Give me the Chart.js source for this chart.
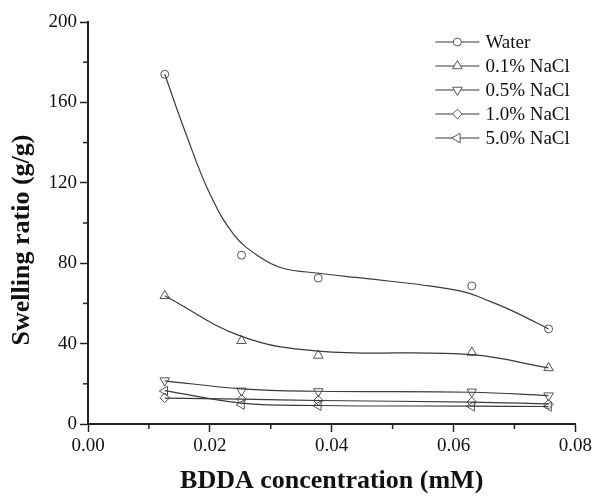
<!DOCTYPE html>
<html>
<head>
<meta charset="utf-8">
<script src="https://cdn.jsdelivr.net/npm/chart.js@4.4.1/dist/chart.umd.min.js"></script>
<style>
  html, body { margin: 0; padding: 0; background: #fff; }
  #wrap { width: 595px; height: 497px; }
</style>
</head>
<body>
<div id="wrap"><canvas id="c"></canvas></div>
<script>
// measured points
const conc = [0.0126, 0.0252, 0.0378, 0.063, 0.0756];
const water  = [174, 84, 72.6, 68.7, 47.3];
const nacl01 = [63.8, 41.4, 34.1, 35.6, 27.9];
const nacl05 = [21.6, 16.5, 16.2, 16.0, 14.1];
const nacl10 = [13.0, 12.2, 11.7, 10.9, 9.8];
const nacl50 = [16.4, 9.6, 9.1, 8.8, 8.7];

// fitted curves
const waterFitX = [0.0126, 0.016, 0.02, 0.024, 0.028, 0.032, 0.038, 0.044, 0.05, 0.056, 0.062, 0.066, 0.07, 0.0756];
const waterFit  = [174, 145, 114.5, 94, 83.5, 77.5, 75, 72.9, 70.9, 68.7, 65.5, 61, 55.8, 47.3];
const nacl01Fit = [63.8, 43.6, 36.3, 34.5, 27.9];
const nacl05Fit = [21.5, 17.5, 16.3, 15.8, 14.1];
const nacl10Fit = [12.9, 12.4, 11.7, 10.9, 10.0];
const nacl50Fit = [16.6, 10.4, 9.2, 8.9, 8.7];

const labels = ["Water", "0.1% NaCl", "0.5% NaCl", "1.0% NaCl", "5.0% NaCl"];
const xTicks = [0, 0.02, 0.04, 0.06, 0.08];
const yTitle = "Swelling ratio (g/g)";

const lineColor = "#3a3a3a";
const markColor = "#555";
const serif = "'Liberation Serif', 'Times New Roman', serif";

const markers = [
  { style: "circle", rotation: 0, radius: 4 },
  { style: "triangle", rotation: 0, radius: 5.5 },
  { style: "triangle", rotation: 180, radius: 5.5 },
  { style: "rectRot", rotation: 0, radius: 4.8 },
  { style: "triangle", rotation: 270, radius: 5.5 }
];

function toXY(xs, ys) {
  return ys.map((y, i) => ({ x: xs[i], y: y }));
}

const pointSets = [water, nacl01, nacl05, nacl10, nacl50];
const fitSets = [
  toXY(waterFitX, waterFit),
  toXY(conc, nacl01Fit),
  toXY(conc, nacl05Fit),
  toXY(conc, nacl10Fit),
  toXY(conc, nacl50Fit)
];

const datasets = [];
for (let i = 0; i < labels.length; i++) {
  datasets.push({
    label: labels[i] + " fit",
    data: fitSets[i],
    showLine: true,
    borderColor: lineColor,
    borderWidth: 1.2,
    pointRadius: 0,
    tension: 0.4,
    fill: false
  });
  datasets.push({
    label: labels[i],
    data: toXY(conc, pointSets[i]),
    showLine: false,
    pointStyle: markers[i].style,
    rotation: markers[i].rotation,
    pointRadius: markers[i].radius,
    pointBorderWidth: 1,
    borderColor: markColor,
    backgroundColor: "rgba(255,255,255,0)"
  });
}

// minor ticks halfway between the major ones
const minorTicks = {
  id: "minorTicks",
  afterDraw(chart) {
    const ctx = chart.ctx;
    ctx.save();
    ctx.strokeStyle = "#222";
    ctx.lineWidth = 1.5;
    const xs = chart.scales.x, ys = chart.scales.y;
    const bottom = chart.chartArea.bottom, left = chart.chartArea.left;
    for (let i = 0; i < ys.ticks.length - 1; i++) {
      const v = (ys.ticks[i].value + ys.ticks[i + 1].value) / 2;
      const p = ys.getPixelForValue(v);
      ctx.beginPath(); ctx.moveTo(left - 5, p); ctx.lineTo(left, p); ctx.stroke();
    }
    for (let i = 0; i < xs.ticks.length - 1; i++) {
      const v = (xs.ticks[i].value + xs.ticks[i + 1].value) / 2;
      const p = xs.getPixelForValue(v);
      ctx.beginPath(); ctx.moveTo(p, bottom); ctx.lineTo(p, bottom + 5); ctx.stroke();
    }
    ctx.restore();
  }
};

// y title sits a bit below the middle of the axis in the original
const yAxisTitle = {
  id: "yAxisTitle",
  afterDraw(chart) {
    const ctx = chart.ctx;
    const area = chart.chartArea;
    ctx.save();
    ctx.translate(22, (area.top + area.bottom) / 2 + 17);
    ctx.rotate(-Math.PI / 2);
    ctx.font = "bold 26px " + serif;
    ctx.fillStyle = "#111";
    ctx.textAlign = "center";
    ctx.textBaseline = "middle";
    ctx.fillText(yTitle, 0, 0);
    ctx.restore();
  }
};

// legend: short line with the marker in the middle
const lineLegend = {
  id: "lineLegend",
  afterDraw(chart) {
    const ctx = chart.ctx;
    const area = chart.chartArea;
    const x0 = area.right - 140, y0 = area.top + 20;
    ctx.save();
    ctx.font = "19px " + serif;
    ctx.textBaseline = "middle";
    labels.forEach((lab, i) => {
      const y = y0 + i * 24;
      ctx.strokeStyle = lineColor;
      ctx.lineWidth = 1.2;
      ctx.beginPath(); ctx.moveTo(x0, y); ctx.lineTo(x0 + 44, y); ctx.stroke();
      ctx.strokeStyle = markColor;
      ctx.lineWidth = 1;
      ctx.fillStyle = "#fff";
      Chart.helpers.drawPoint(ctx, {
        pointStyle: markers[i].style,
        rotation: markers[i].rotation,
        radius: markers[i].radius,
        borderWidth: 1
      }, x0 + 22, y);
      ctx.fillStyle = "#111";
      ctx.fillText(lab, x0 + 50, y + 1);
    });
    ctx.restore();
  }
};

new Chart(document.getElementById("c"), {
  type: "scatter",
  data: { datasets: datasets },
  options: {
    responsive: true,
    maintainAspectRatio: false,
    animation: false,
    layout: { padding: { top: 22, right: 17, left: 0, bottom: 0 } },
    plugins: {
      legend: { display: false },
      tooltip: { enabled: false }
    },
    scales: {
      x: {
        type: "linear",
        min: 0,
        max: 0.08,
        afterBuildTicks: (scale) => { scale.ticks = xTicks.map(v => ({ value: v })); },
        ticks: {
          callback: (v) => Number(v).toFixed(2),
          color: "#111",
          font: { family: serif, size: 19 },
          padding: 3,
          maxRotation: 0
        },
        grid: { drawOnChartArea: false, tickLength: 8, tickWidth: 1.5, tickColor: "#222" },
        border: { color: "#222", width: 2 },
        title: {
          display: true,
          text: "BDDA concentration (mM)",
          color: "#111",
          font: { family: serif, size: 26, weight: "bold" },
          padding: { top: 6, bottom: 0 }
        },
        afterFit: (scale) => { scale.height = 73; }
      },
      y: {
        min: 0,
        max: 200,
        ticks: {
          stepSize: 40,
          color: "#111",
          font: { family: serif, size: 19 },
          padding: 3
        },
        grid: { drawOnChartArea: false, tickLength: 8, tickWidth: 1.5, tickColor: "#222" },
        border: { color: "#222", width: 2 },
        afterFit: (scale) => { scale.width = 88; }
      }
    }
  },
  plugins: [minorTicks, yAxisTitle, lineLegend]
});
</script>
</body>
</html>
